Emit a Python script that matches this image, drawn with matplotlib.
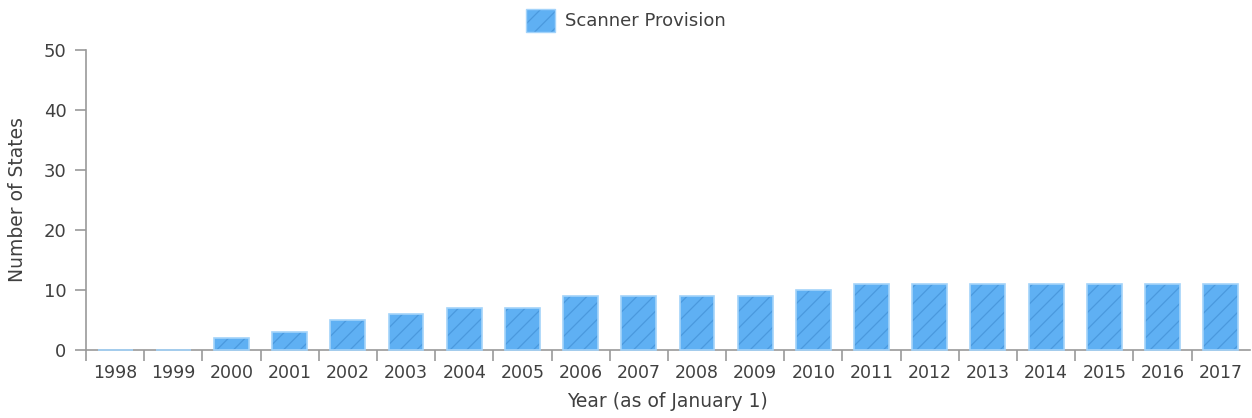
import numpy as np
import matplotlib.pyplot as plt
from matplotlib.colors import to_rgba
from matplotlib.patches import Patch

years = [str(y) for y in range(1998, 2018)]
states = [0, 0, 2, 3, 5, 6, 7, 7, 9, 9, 9, 9, 10, 11, 11, 11, 11, 11, 11, 11]
series_name = 'Scanner Provision'

bar_color = '#5fb0f3'
edge_color = '#a3d3fa'
hatch_color = '#3a86cc'
axis_color = '#9a9a9a'
text_color = '#404040'

plt.rcParams['font.family'] = ['DejaVu Sans']
plt.rcParams['hatch.linewidth'] = 0.9

fig = plt.figure(figsize=(12.52, 4.18), dpi=100)
ax = fig.add_axes([0.0687, 0.1627, 0.9295, 0.7177])

x = np.arange(len(years))
bars = ax.bar(x, states, width=0.6, color=bar_color, edgecolor=edge_color,
              linewidth=1.2, hatch='//', zorder=3, clip_on=False)
for b in bars:
    b._hatch_color = to_rgba(hatch_color, 0.55)

ax.set_xlim(-0.5, len(years) - 0.5)
ax.set_ylim(0, 50)
ax.set_yticks(range(0, 51, 10))
ax.set_xticks(x)
ax.set_xticklabels(years)
ax.set_xticks(np.arange(-0.5, len(years) - 0.5, 1), minor=True)
ax.tick_params(axis='x', which='major', length=0, pad=10, labelsize=12.5, labelcolor=text_color)
ax.tick_params(axis='x', which='minor', length=8, width=1.2, color=axis_color)
ax.tick_params(axis='y', length=8, width=1.2, color=axis_color, labelsize=13,
               labelcolor=text_color, pad=6)

for s in ['top', 'right']:
    ax.spines[s].set_visible(False)
for s in ['left', 'bottom']:
    ax.spines[s].set_color(axis_color)
    ax.spines[s].set_linewidth(1.2)

ax.set_xlabel('Year (as of January 1)', fontsize=13.5, color=text_color, labelpad=7)
ax.set_ylabel('Number of States', fontsize=13.5, color=text_color, labelpad=12)

handle = Patch(facecolor=bar_color, edgecolor=edge_color, hatch='//')
handle._hatch_color = to_rgba(hatch_color, 0.55)
fig.legend([handle], [series_name], loc='upper center', bbox_to_anchor=(0.5, 1.018),
           frameon=False, fontsize=13, labelcolor=text_color, handlelength=1.6,
           handleheight=1.6, handletextpad=0.6)

fig.savefig('out.png', dpi=100)
